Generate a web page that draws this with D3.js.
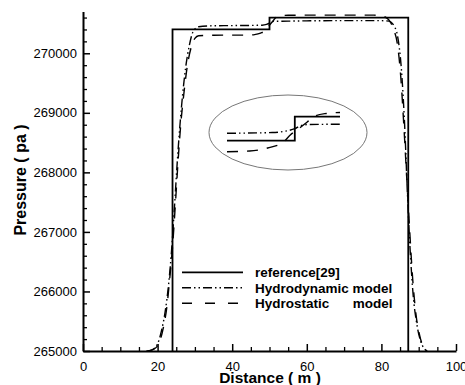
<!DOCTYPE html>
<html><head><meta charset="utf-8">
<script src="https://cdn.jsdelivr.net/npm/d3@7"></script>
<style>
body{margin:0;background:#fff;}
svg{display:block;font-family:Arial,"Liberation Sans",sans-serif;}
</style></head>
<body>
<svg id="chart" width="465" height="385"></svg>
<script>
// ---- data ----
const xTicks = [0, 20, 40, 60, 80, 100];
const yTicks = [265000, 266000, 267000, 268000, 269000, 270000];
const seriesNames = ["reference[29]", "Hydrodynamic model", "Hydrostatic"];

const refX = [24, 24, 50, 50, 87.2, 87.2];
const refP = [265000, 270400, 270400, 270600, 270600, 265000];

const hdX = [17, 18.5, 20, 21, 22, 23, 23.7, 24.5, 25.3, 26, 26.7, 27.5, 28.5, 29.5, 31, 35, 40, 45, 48, 49.2, 50, 50.5, 51.2, 55, 60, 70, 80, 82, 83.5, 84.3, 85.4, 86.3, 87.0, 87.7, 88.5, 89.5, 90.5, 91.5, 92.3];
const hdP = [265000, 265020, 265120, 265330, 265650, 266150, 266650, 267400, 268200, 268800, 269300, 269750, 270130, 270360, 270445, 270462, 270465, 270468, 270472, 270485, 270505, 270525, 270537, 270540, 270545, 270548, 270548, 270540, 270450, 270300, 269700, 268700, 267600, 266700, 265950, 265450, 265170, 265040, 265000];

const hsX = [17.5, 19, 20.5, 21.5, 22.5, 23.3, 24, 24.8, 25.5, 26.2, 27, 28, 29, 30, 31, 35, 40, 44, 45, 46, 47.6, 49, 49.6, 50.2, 51.1, 51.8, 52.8, 55, 60, 70, 78, 80.5, 82, 83.3, 84.3, 85.2, 86, 86.8, 87.6, 88.4, 89.3, 90.3, 91.3, 92];
const hsP = [265000, 265030, 265150, 265380, 265750, 266250, 266750, 267500, 268200, 268800, 269300, 269800, 270100, 270250, 270295, 270303, 270305, 270306, 270308, 270314, 270339, 270389, 270448, 270489, 270556, 270606, 270627, 270638, 270640, 270640, 270640, 270620, 270560, 270400, 270150, 269600, 268800, 267900, 267000, 266200, 265600, 265250, 265060, 265000];

// inset (magnified step region)
const insetRefX = [44, 50, 50, 54];
const insetRefP = [270400, 270400, 270600, 270600];
const insetHdX = [44, 48, 49.2, 50, 50.5, 51.2, 54];
const insetHdP = [270462, 270468, 270480, 270500, 270525, 270535, 270537];
const insetHsX = [44, 46, 47.6, 49, 49.6, 50.2, 51.1, 51.8, 52.8, 54];
const insetHsP = [270308, 270314, 270339, 270389, 270448, 270489, 270556, 270606, 270627, 270635];

// ---- chart ----
const svg = d3.select("#chart");
const x = d3.scaleLinear().domain([0, 100]).range([83, 456]);
const y = d3.scaleLinear().domain([265000, 270700]).range([351, 11.6]);

const dashHd = "9,3,1.5,3,1.5,3";
const dashHs = "11,9";

// minor ticks
const xMinor = d3.range(0, 101, 5).filter(v => v % 20 !== 0);
const yMinor = d3.range(265000, 270701, 200).filter(v => v % 1000 !== 0);

svg.append("g").attr("transform", `translate(0,${y(265000)})`)
  .call(d3.axisBottom(x).tickValues(xMinor).tickFormat("").tickSize(-4).tickSizeOuter(0))
  .call(g => g.select(".domain").remove())
  .call(g => g.selectAll("line").attr("stroke", "#000").attr("stroke-width", 1.3));
svg.append("g").attr("transform", `translate(${x(0)},0)`)
  .call(d3.axisLeft(y).tickValues(yMinor).tickFormat("").tickSize(-4).tickSizeOuter(0))
  .call(g => g.select(".domain").remove())
  .call(g => g.selectAll("line").attr("stroke", "#000").attr("stroke-width", 1.3));

const gx = svg.append("g").attr("transform", `translate(0,${y(265000)})`)
  .call(d3.axisBottom(x).tickValues(xTicks).tickFormat(d3.format("d")).tickSize(-7).tickSizeOuter(0).tickPadding(10.5));
gx.select(".domain").attr("stroke", "#000").attr("stroke-width", 2);
gx.selectAll("line").attr("stroke", "#000").attr("stroke-width", 1.5);
gx.selectAll("text").attr("font-size", 13).attr("font-family", "Arial, 'Liberation Sans', sans-serif").attr("fill", "#000");

const gy = svg.append("g").attr("transform", `translate(${x(0)},0)`)
  .call(d3.axisLeft(y).tickValues(yTicks).tickFormat(d3.format("d")).tickSize(-7).tickSizeOuter(0).tickPadding(6));
gy.select(".domain").attr("stroke", "#000").attr("stroke-width", 2);
gy.selectAll("line").attr("stroke", "#000").attr("stroke-width", 1.5);
gy.selectAll("text").attr("font-size", 13).attr("font-family", "Arial, 'Liberation Sans', sans-serif").attr("fill", "#000");

// lines
const lineLin = d3.line().x(d => x(d[0])).y(d => y(d[1]));
const lineSmooth = d3.line().x(d => x(d[0])).y(d => y(d[1])).curve(d3.curveMonotoneX);

svg.append("path").datum(d3.zip(refX, refP)).attr("d", lineLin)
  .attr("fill", "none").attr("stroke", "#000").attr("stroke-width", 1.8);
svg.append("path").datum(d3.zip(hdX, hdP)).attr("d", lineSmooth)
  .attr("fill", "none").attr("stroke", "#000").attr("stroke-width", 1.4).attr("stroke-dasharray", dashHd);
svg.append("path").datum(d3.zip(hsX, hsP)).attr("d", lineSmooth)
  .attr("fill", "none").attr("stroke", "#000").attr("stroke-width", 1.4).attr("stroke-dasharray", dashHs);

// inset
const ix = d3.scaleLinear().domain([44, 54]).range([227, 340]);
const iy = d3.scaleLinear().domain([270400, 270600]).range([140.7, 116.7]);
svg.append("ellipse").attr("cx", 288).attr("cy", 132.5).attr("rx", 79).attr("ry", 37.5)
  .attr("fill", "none").attr("stroke", "#777").attr("stroke-width", 1);
const iLin = d3.line().x(d => ix(d[0])).y(d => iy(d[1]));
const iSmooth = d3.line().x(d => ix(d[0])).y(d => iy(d[1])).curve(d3.curveMonotoneX);
svg.append("path").datum(d3.zip(insetRefX, insetRefP)).attr("d", iLin)
  .attr("fill", "none").attr("stroke", "#000").attr("stroke-width", 1.8);
svg.append("path").datum(d3.zip(insetHdX, insetHdP)).attr("d", iSmooth)
  .attr("fill", "none").attr("stroke", "#000").attr("stroke-width", 1.4).attr("stroke-dasharray", dashHd);
svg.append("path").datum(d3.zip(insetHsX, insetHsP)).attr("d", iSmooth)
  .attr("fill", "none").attr("stroke", "#000").attr("stroke-width", 1.4).attr("stroke-dasharray", dashHs);

// legend
const legY = [272.3, 287.7, 303.3];
const legDash = [null, dashHd, "10,13"];
seriesNames.forEach((name, i) => {
  svg.append("line").attr("x1", 182).attr("x2", 243).attr("y1", legY[i]).attr("y2", legY[i])
    .attr("stroke", "#000").attr("stroke-width", i === 0 ? 1.8 : 1.4)
    .attr("stroke-dasharray", legDash[i]);
  const t = svg.append("text").attr("x", 255).attr("y", legY[i] + 4.8)
    .attr("font-size", 13.5).attr("font-weight", "bold").attr("fill", "#000").text(name);
  if (i === 2) {
    t.append("tspan").attr("x", 352.7).text("model");
  }
});

// axis titles
svg.append("text").attr("x", 270).attr("y", 382.5).attr("text-anchor", "middle")
  .attr("font-size", 15.5).attr("font-weight", "bold").text("Distance ( m )");
svg.append("text").attr("transform", "translate(26,180) rotate(-90)").attr("text-anchor", "middle")
  .attr("font-size", 16).attr("font-weight", "bold").text("Pressure ( pa )");
</script>
</body></html>
